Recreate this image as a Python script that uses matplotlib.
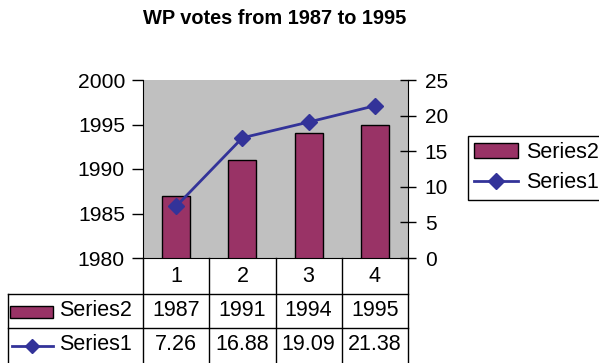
import matplotlib.pyplot as plt
from matplotlib.lines import Line2D
from matplotlib.patches import Rectangle
from matplotlib.transforms import blended_transform_factory

plt.rcParams['font.family'] = ['Liberation Sans', 'DejaVu Sans']

categories = ['1', '2', '3', '4']
series2 = [1987, 1991, 1994, 1995]
series1 = [7.26, 16.88, 19.09, 21.38]
series2_labels = ['1987', '1991', '1994', '1995']
series1_labels = ['7.26', '16.88', '19.09', '21.38']

BAR_COLOR = '#993366'
LINE_COLOR = '#333399'

W, H = 599, 363
fig = plt.figure(figsize=(W / 100, H / 100), dpi=100)


def fx(px):
    return px / W


def fy(py):
    return 1 - py / H


# plot area
ax = fig.add_axes([fx(143), fy(258), fx(408) - fx(143), fy(80) - fy(258)])
ax.set_facecolor('#c0c0c0')
x = list(range(len(categories)))
bars = ax.bar(x, series2, width=0.42, color=BAR_COLOR, edgecolor='black',
              linewidth=1, label='Series2')
ax.set_xlim(-0.5, len(categories) - 0.5)
ax.set_ylim(1980, 2000)
ax.set_yticks(range(1980, 2001, 5))
ax.set_xticks([])
ax.spines['top'].set_visible(False)
ax.spines['right'].set_visible(False)
ax.tick_params(axis='y', direction='out', length=8, width=1, labelsize=15.2, pad=5)

ax2 = ax.twinx()
line, = ax2.plot(x, series1, color=LINE_COLOR, lw=2, marker='D', ms=8,
                 mfc=LINE_COLOR, mec=LINE_COLOR, label='Series1')
ax2.set_ylim(0, 25)
ax2.set_yticks(range(0, 26, 5))
ax2.spines['top'].set_visible(False)
ax2.spines['left'].set_visible(False)
ax2.spines['bottom'].set_visible(False)
ax2.tick_params(axis='y', direction='inout', length=12, width=1, labelsize=15, pad=6)

fig.text(fx(275), fy(18), 'WP votes from 1987 to 1995', ha='center', va='center',
         fontsize=14.4, fontweight='bold')

# data table under the plot
TABLE_FS = 15.5
tr = blended_transform_factory(ax.transData, fig.transFigure)
for i in range(len(categories) + 1):
    fig.add_artist(Line2D([i - 0.5, i - 0.5], [fy(258), fy(363)], color='black',
                          lw=1, transform=tr))
for yline in (294, 328):
    fig.add_artist(Line2D([fx(8), fx(408)], [fy(yline), fy(yline)], color='black',
                          lw=1, transform=fig.transFigure))
fig.add_artist(Line2D([fx(8), fx(8)], [fy(294), fy(363)], color='black', lw=1,
                      transform=fig.transFigure))

for i, cat in enumerate(categories):
    fig.text(i, fy(276), cat, transform=tr, ha='center', va='center', fontsize=TABLE_FS)
    fig.text(i, fy(311), series2_labels[i], transform=tr, ha='center', va='center', fontsize=TABLE_FS)
    fig.text(i, fy(345), series1_labels[i], transform=tr, ha='center', va='center', fontsize=TABLE_FS)

fig.add_artist(Rectangle((fx(10), fy(318)), fx(53) - fx(10), fy(306) - fy(318),
                         facecolor=BAR_COLOR, edgecolor='black', lw=1,
                         transform=fig.transFigure))
fig.add_artist(Line2D([fx(12), fx(32), fx(53)], [fy(346)] * 3, color=LINE_COLOR, lw=2,
                      marker='D', ms=7, markevery=[1], transform=fig.transFigure))
fig.text(fx(59), fy(311), 'Series2', ha='left', va='center', fontsize=TABLE_FS)
fig.text(fx(59), fy(345), 'Series1', ha='left', va='center', fontsize=TABLE_FS)

leg = fig.legend(handles=[bars, line], labels=['Series2', 'Series1'], loc='upper left',
                 bbox_to_anchor=(fx(468), fy(136)), frameon=True, fancybox=False,
                 edgecolor='black', framealpha=1, fontsize=15.5, handlelength=2.0,
                 borderpad=0.3, labelspacing=0.4, handletextpad=0.4, borderaxespad=0)
leg.get_frame().set_linewidth(1)

fig.savefig('out.png', dpi=100)
